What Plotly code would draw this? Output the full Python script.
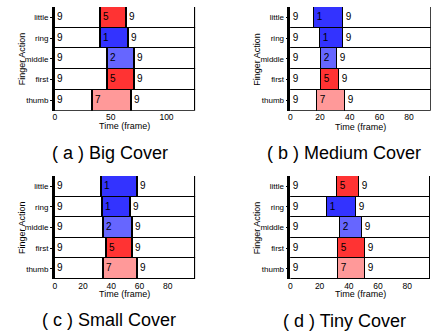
import plotly.graph_objects as go

fingers = ["thumb", "first", "middle", "ring", "little"]

# panel (a) Big Cover
a_wait = [34, 47, 47, 41, 41]
a_act = [35, 25, 25, 25, 23]
a_rest = [57, 54, 54, 60, 62]
a_lab = ["7", "5", "2", "1", "5"]
# panel (b) Medium Cover
b_wait = [18, 21, 21, 20, 16]
b_act = [19, 12, 11, 16, 20]
b_rest = [58, 62, 63, 59, 59]
b_lab = ["7", "5", "2", "1", "1"]
# panel (c) Small Cover
c_wait = [35, 37, 35, 34, 33]
c_act = [24, 18, 20, 20, 26]
c_rest = [41, 45, 45, 46, 41]
c_lab = ["7", "5", "2", "1", "1"]
# panel (d) Tiny Cover
d_wait = [33, 33, 34, 25, 32]
d_act = [18, 18, 15, 20, 15]
d_rest = [45, 45, 47, 51, 49]
d_lab = ["7", "5", "2", "1", "5"]

wait_label = "9"
rest_label = "9"
label_color = {"5": "#FF3333", "1": "#3333FF", "2": "#6666FF", "7": "#FF9999"}

panels = [
    ("( a ) Big Cover", a_wait, a_act, a_rest, a_lab, 125.6, [0, 50, 100]),
    ("( b ) Medium Cover", b_wait, b_act, b_rest, b_lab, 94.6, [0, 20, 40, 60, 80]),
    ("( c ) Small Cover", c_wait, c_act, c_rest, c_lab, 99.3, [0, 20, 40, 60, 80]),
    ("( d ) Tiny Cover", d_wait, d_act, d_rest, d_lab, 96, [0, 20, 40, 60, 80]),
]

W, H = 440, 331
xdoms = [(53, 194), (289.7, 430.7), (53, 194), (289.7, 430.7)]
ydoms = [(7, 110.7), (7, 110.7), (176, 279), (176, 279)]
caps = [(108, 153), (344, 153), (107, 320), (344, 321)]
ytitle_x = [19.5, 256, 19.5, 256]
xtitle_y = [126, 126.5, 293.5, 293.5]

FONT = "Liberation Sans, Arial, Helvetica, sans-serif"
fig = go.Figure()
layout = dict(
    width=W, height=H, margin=dict(l=0, r=0, t=0, b=0),
    paper_bgcolor="white", plot_bgcolor="white", barmode="stack", bargap=0,
    showlegend=False, font=dict(family=FONT, size=8, color="black"),
    uniformtext=dict(minsize=8, mode="show"),
)
annotations = []
for i, (cap, wait, act, rest, lab, xmax, ticks) in enumerate(panels):
    n = "" if i == 0 else str(i + 1)
    xa, ya = "x" + n, "y" + n
    line = dict(color="black", width=1.5)
    common = dict(y=fingers, orientation="h", xaxis=xa, yaxis=ya,
                  textposition="inside", insidetextanchor="start",
                  textfont=dict(size=10, color="black", family=FONT),
                  hoverinfo="skip")
    fig.add_trace(go.Bar(x=wait, text=[wait_label] * len(wait),
                         marker=dict(color="white", line=line), **common))
    fig.add_trace(go.Bar(x=act, text=lab,
                         marker=dict(color=[label_color[l] for l in lab], line=line), **common))
    fig.add_trace(go.Bar(x=rest, text=[rest_label] * len(rest),
                         marker=dict(color="white", line=line), **common))
    x0, x1 = xdoms[i]
    yt, yb = ydoms[i]
    layout["xaxis" + n] = dict(
        domain=[x0 / W, x1 / W], anchor=ya, range=[0, xmax], tickvals=ticks,
        showgrid=False, zeroline=False, showline=False, ticks="", ticklen=2,
        tickfont=dict(size=8.5, color="black"),
    )
    layout["yaxis" + n] = dict(
        domain=[1 - yb / H, 1 - yt / H], anchor=xa, type="category",
        categoryorder="array", categoryarray=fingers,
        showgrid=False, zeroline=False, showline=True, linewidth=2.5, linecolor="black",
        ticks="outside", ticklen=2, tickwidth=1, tickcolor="black",
        tickfont=dict(size=8, color="black"),
    )
    # axis titles
    annotations.append(dict(text="Finger Action", x=ytitle_x[i] / W, y=1 - (yt + yb) / 2 / H,
                            xref="paper", yref="paper", showarrow=False, textangle=-90,
                            xanchor="center", yanchor="middle",
                            font=dict(size=9, family=FONT, color="black")))
    annotations.append(dict(text="Time (frame)", x=(x0 + x1) / 2 / W, y=1 - xtitle_y[i] / H,
                            xref="paper", yref="paper", showarrow=False,
                            xanchor="center", yanchor="middle",
                            font=dict(size=9, family=FONT, color="black")))
    cx, cy = caps[i]
    annotations.append(dict(text=cap, x=cx / W, y=1 - cy / H, xref="paper", yref="paper",
                            showarrow=False, xanchor="center", yanchor="middle",
                            font=dict(size=18, family=FONT, color="black")))
layout["annotations"] = annotations
fig.update_layout(**layout)
fig.write_html("out.html", config={"displayModeBar": False},
               post_script="document.body.style.margin='0';document.body.style.overflow='hidden';")
